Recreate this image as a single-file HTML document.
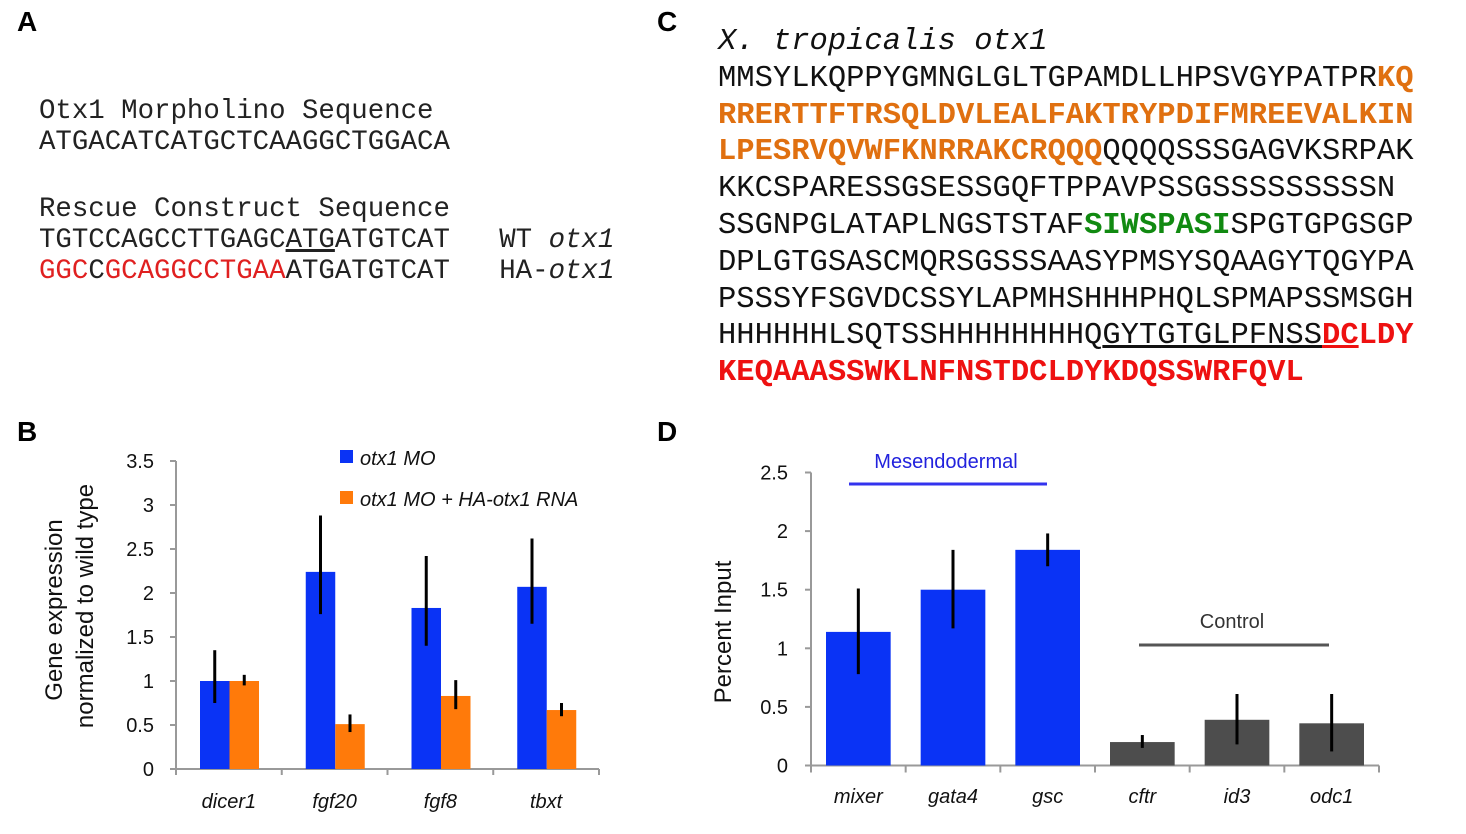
<!DOCTYPE html>
<html><head><meta charset="utf-8"><style>
body{margin:0;width:1466px;height:834px;background:#fff;overflow:hidden;position:relative;font-family:"Liberation Sans",sans-serif}
.lbl{position:absolute;font:bold 28px "Liberation Sans",sans-serif}
.mono{position:absolute;font-family:"Liberation Mono",monospace;white-space:pre;color:#222}
.seqA{font-size:27.4px;line-height:31px}
.seqC{font-size:30.5px;line-height:36.8px;color:#111}
.o{color:#e07010;font-weight:bold}.g{color:#118a11;font-weight:bold}.r{color:#ee1111;font-weight:bold}
</style></head><body>
<div class="lbl" style="left:17px;top:6px">A</div>
<div class="lbl" style="left:17px;top:416px">B</div>
<div class="lbl" style="left:657px;top:6px">C</div>
<div class="lbl" style="left:657px;top:416px">D</div>

<div class="mono seqA" style="left:39px;top:96px">Otx1 Morpholino Sequence
ATGACATCATGCTCAAGGCTGGACA</div>
<div class="mono seqA" style="left:39px;top:194px">Rescue Construct Sequence
TGTCCAGCCTTGAGC<span style="text-decoration:underline;text-decoration-thickness:3px">ATG</span>ATGTCAT   WT <i>otx1</i>
<span style="color:#e02020">GGC</span>C<span style="color:#e02020">GCAGGCCTGAA</span>ATGATGTCAT   HA-<i>otx1</i></div>

<div class="mono seqC" style="left:718px;top:24px"><i>X. tropicalis otx1</i>
MMSYLKQPPYGMNGLGLTGPAMDLLHPSVGYPATPR<span class="o">KQ</span>
<span class="o">RRERTTFTRSQLDVLEALFAKTRYPDIFMREEVALKIN</span>
<span class="o">LPESRVQVWFKNRRAKCRQQQ</span>QQQQSSSGAGVKSRPAK
KKCSPARESSGSESSGQFTPPAVPSSGSSSSSSSSSN
SSGNPGLATAPLNGSTSTAF<span class="g">SIWSPASI</span>SPGTGPGSGP
DPLGTGSASCMQRSGSSSAASYPMSYSQAAGYTQGYPA
PSSSYFSGVDCSSYLAPMHSHHHPHQLSPMAPSSMSGH
HHHHHHLSQTSSHHHHHHHHQ<span style="text-decoration:underline;text-decoration-thickness:3px">GYTGTGLPFNSS</span><span class="r" style="text-decoration:underline;text-decoration-thickness:3px">DC</span><span class="r">LDY</span>
<span class="r">KEQAAASSWKLNFNSTDCLDYKDQSSWRFQVL</span></div>

<svg id="chartB" width="1466" height="834" style="position:absolute;left:0;top:0"></svg>
<script>
const bCats=["dicer1","fgf20","fgf8","tbxt"];
const bBlue=[1.0,2.24,1.83,2.07];
const bBlueLo=[0.75,1.76,1.40,1.65];
const bBlueHi=[1.35,2.88,2.42,2.62];
const bOrange=[1.0,0.51,0.83,0.67];
const bOrangeLo=[0.95,0.42,0.68,0.60];
const bOrangeHi=[1.07,0.62,1.01,0.75];
const bTicks=["0","0.5","1","1.5","2","2.5","3","3.5"];

const dCats=["mixer","gata4","gsc","cftr","id3","odc1"];
const dVals=[1.14,1.50,1.84,0.20,0.39,0.36];
const dLo=[0.78,1.17,1.70,0.15,0.18,0.12];
const dHi=[1.51,1.84,1.98,0.26,0.61,0.61];
const dGroup=["m","m","m","c","c","c"];
const dTicks=["0","0.5","1","1.5","2","2.5"];

const NS="http://www.w3.org/2000/svg";
const svg=document.getElementById("chartB");
function mk(tag,attrs,text){const e=document.createElementNS(NS,tag);for(const k in attrs)e.setAttribute(k,attrs[k]);if(text!==undefined)e.textContent=text;svg.appendChild(e);return e;}

// Panel B
const bx0=176,bx1=599,by0=769,bScale=88;
const bY=v=>by0-v*bScale;
const bW=(bx1-bx0)/bCats.length;
let e;
e=mk("line",{x1:bx0,y1:bY(3.5),x2:bx0,y2:by0+5,stroke:"#999","stroke-width":2});


e=mk("line",{x1:bx0,y1:by0,x2:bx1,y2:by0,stroke:"#999","stroke-width":2});


bTicks.forEach((t,i)=>{const v=parseFloat(t);
 mk("line",{x1:bx0-6,y1:bY(v),x2:bx0,y2:bY(v),stroke:"#999","stroke-width":2});
 e=mk("text",{x:bx0-22,y:bY(v)+7,"text-anchor":"end","font-size":20,fill:"#111"},t);
 
 
});
for(let i=0;i<=bCats.length;i++)mk("line",{x1:bx0+i*bW,y1:by0,x2:bx0+i*bW,y2:by0+6,stroke:"#999","stroke-width":2});
bCats.forEach((c,i)=>{const gx=bx0+i*bW;
 const x1=gx+24,w=29.5;
 e=mk("rect",{x:x1,y:bY(bBlue[i]),width:w,height:bBlue[i]*bScale,fill:"#0a33f5"});
 
 
 e=mk("rect",{x:x1+w,y:bY(bOrange[i]),width:w,height:bOrange[i]*bScale,fill:"#ff7a0a"});
 
 
 e=mk("line",{x1:x1+w/2,y1:bY(bBlueLo[i]),x2:x1+w/2,y2:bY(bBlueHi[i]),stroke:"#000","stroke-width":3});
 
 
 e=mk("line",{x1:x1+1.5*w,y1:bY(bOrangeLo[i]),x2:x1+1.5*w,y2:bY(bOrangeHi[i]),stroke:"#000","stroke-width":3});
 
 
 e=mk("text",{x:gx+bW/2,y:808,"text-anchor":"middle","font-size":20,"font-style":"italic",fill:"#111"},c);
 
 
});
e=mk("text",{transform:"translate(62,610) rotate(-90)","text-anchor":"middle","font-size":24,fill:"#111"},"Gene expression");


e=mk("text",{transform:"translate(93,606) rotate(-90)","text-anchor":"middle","font-size":24,fill:"#111"},"normalized to wild type");


mk("rect",{x:340,y:450,width:13,height:13,fill:"#0a33f5"});
e=mk("text",{x:360,y:465,"font-size":20,"font-style":"italic",fill:"#111"},"otx1 MO");


mk("rect",{x:340,y:491,width:13,height:13,fill:"#ff7a0a"});
e=mk("text",{x:360,y:506,"font-size":20,"font-style":"italic",fill:"#111"},"otx1 MO + HA-otx1 RNA");



// Panel D
const dx0=811,dx1=1379,dy0=765.5,dScale=117.2;
const dY=v=>dy0-v*dScale;
const dW=(dx1-dx0)/dCats.length;
e=mk("line",{x1:dx0,y1:dY(2.5),x2:dx0,y2:dy0+6,stroke:"#999","stroke-width":2});


e=mk("line",{x1:dx0-6,y1:dy0,x2:dx1,y2:dy0,stroke:"#999","stroke-width":2});


dTicks.forEach(t=>{const v=parseFloat(t);
 mk("line",{x1:dx0-6,y1:dY(v),x2:dx0,y2:dY(v),stroke:"#999","stroke-width":2});
 e=mk("text",{x:788,y:dY(v)+7,"text-anchor":"end","font-size":20,fill:"#111"},t);
 
 
});
for(let i=0;i<=dCats.length;i++)mk("line",{x1:dx0+i*dW,y1:dy0,x2:dx0+i*dW,y2:dy0+7,stroke:"#999","stroke-width":2});
dCats.forEach((c,i)=>{const gx=dx0+i*dW;const x1=gx+15,w=dW-30;
 e=mk("rect",{x:x1,y:dY(dVals[i]),width:w,height:dVals[i]*dScale,fill:dGroup[i]==="m"?"#0a33f5":"#4d4d4d"});
 
 
 e=mk("line",{x1:x1+w/2,y1:dY(dLo[i]),x2:x1+w/2,y2:dY(dHi[i]),stroke:"#000","stroke-width":3});
 
 
 e=mk("text",{x:gx+dW/2,y:803,"text-anchor":"middle","font-size":20,"font-style":"italic",fill:"#111"},c);
 
 
});
e=mk("text",{transform:"translate(731,632) rotate(-90)","text-anchor":"middle","font-size":24,fill:"#111"},"Percent Input");


mk("line",{x1:849,y1:484,x2:1047,y2:484,stroke:"#3333ee","stroke-width":3});
e=mk("text",{x:946,y:468,"text-anchor":"middle","font-size":20,fill:"#2222dd"},"Mesendodermal");


mk("line",{x1:1139,y1:645,x2:1329,y2:645,stroke:"#555","stroke-width":3});
e=mk("text",{x:1232,y:628,"text-anchor":"middle","font-size":20,fill:"#333"},"Control");


</script>
</body></html>
